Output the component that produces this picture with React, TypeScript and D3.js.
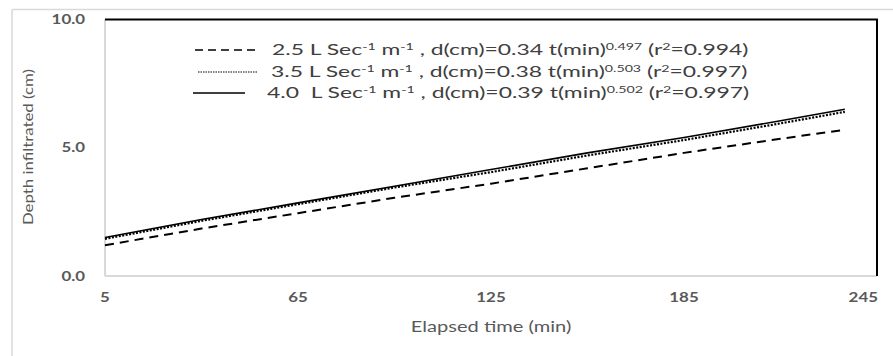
import React from "react";
import * as d3 from "d3";

const times = [5, 35, 65, 95, 125, 155, 185, 215, 235];
const depth25 = [1.2, 1.85, 2.45, 3.05, 3.6, 4.2, 4.8, 5.35, 5.7];
const depth35 = [1.45, 2.15, 2.8, 3.45, 4.05, 4.7, 5.3, 5.95, 6.4];
const depth40 = [1.5, 2.2, 2.85, 3.5, 4.15, 4.8, 5.4, 6.05, 6.5];

const xTicks = [5, 65, 125, 185, 245];
const yTicks = [0, 5, 10];

const rates = ["2.5", "3.5", "4.0"];
const coefs = ["0.34", "0.38", "0.39"];
const exps = ["0.497", "0.503", "0.502"];
const r2s = ["0.994", "0.997", "0.997"];

const W = 893;
const H = 356;
const M = { left: 105, right: 877, top: 19.5, bottom: 276 };
const FONT = "Lato, 'Open Sans', sans-serif";

export default function App() {
  const x = d3.scaleLinear().domain([5, 245]).range([M.left, M.right]);
  const y = d3.scaleLinear().domain([0, 10]).range([M.bottom, M.top]);
  const line = d3
    .line<number>()
    .x((_, i) => x(times[i]))
    .y((v) => y(v));

  const series = [
    { data: depth25, dash: "9,6", width: 2 },
    { data: depth35, dash: "2,1.5", width: 2.2 },
    { data: depth40, dash: "none", width: 1.6 },
  ];
  const legendDash = ["8,5", "1.5,1", "none"];
  const legendX = [[195, 258], [198, 257], [193, 245]];
  const legendTextX = [272, 271, 267];
  const baselines = [55, 77, 98];
  const LSX = 1.58;
  const TSX = 1.3;

  return (
    <svg
      width={W}
      height={H}
      style={{ position: "absolute", left: 0, top: 0, background: "#fff" }}
      fontFamily={FONT}
    >
      <rect x={0} y={0} width={W} height={H} fill="#fff" />
      {/* outer frame */}
      <line x1={12} y1={9.5} x2={W} y2={9.5} stroke="#d9d9d9" strokeWidth={1.5} />
      <line x1={12} y1={9.5} x2={12} y2={H} stroke="#d9d9d9" strokeWidth={1.5} />

      {/* plot borders */}
      <line x1={M.left} y1={M.top} x2={M.left} y2={M.bottom} stroke="#d9d9d9" strokeWidth={2} />
      <line x1={M.left} y1={M.bottom} x2={M.right} y2={M.bottom} stroke="#d9d9d9" strokeWidth={2} />
      <line x1={M.left} y1={M.top} x2={M.right + 1} y2={M.top} stroke="#000" strokeWidth={2} />
      <line x1={M.right} y1={M.top} x2={M.right} y2={M.bottom} stroke="#000" strokeWidth={2} />

      {/* y tick labels */}
      {yTicks.map((t) => (
        <g key={t} transform={`translate(85,${y(t) + 4.5}) scale(${TSX},1)`}>
          <text textAnchor="end" fontSize={13} fontWeight={700} fill="#595959">
            {t.toFixed(1)}
          </text>
        </g>
      ))}
      {/* x tick labels */}
      {xTicks.map((t, i) => {
        const last = i === xTicks.length - 1;
        return (
          <g key={t} transform={`translate(${last ? x(t) + 1 : x(t)},302) scale(${TSX},1)`}>
            <text textAnchor={last ? "end" : "middle"} fontSize={13} fontWeight={700} fill="#595959">
              {t}
            </text>
          </g>
        );
      })}

      {/* axis titles */}
      <g transform={`translate(491,332) scale(1.34,1)`}>
        <text textAnchor="middle" fontSize={15} fill="#595959">
          Elapsed time (min)
        </text>
      </g>
      <g transform={`translate(33,147) rotate(-90) scale(1.2,1)`}>
        <text textAnchor="middle" fontSize={14} fill="#595959">
          Depth infiltrated (cm)
        </text>
      </g>

      {/* series */}
      {series.map((s, i) => (
        <path
          key={i}
          d={line(s.data) || ""}
          fill="none"
          stroke="#000"
          strokeWidth={s.width}
          strokeDasharray={s.dash}
        />
      ))}

      {/* legend */}
      {rates.map((r, i) => (
        <g key={r}>
          <line
            x1={legendX[i][0]}
            x2={legendX[i][1]}
            y1={baselines[i] - 5}
            y2={baselines[i] - 5}
            stroke="#000"
            strokeWidth={i === 1 ? 1 : 1.3}
            strokeDasharray={legendDash[i]}
          />
          <g transform={`translate(${legendTextX[i]},${baselines[i]}) scale(${LSX},1)`}>
            <text fontSize={14.5} fill="#404040">
              <tspan>{r}{i === 2 ? "\u00a0" : ""} L Sec</tspan>
              <tspan dy={-5} fontSize={9}>-1</tspan>
              <tspan dy={5}> m</tspan>
              <tspan dy={-5} fontSize={9}>-1</tspan>
              <tspan dy={5}>{` , d(cm)=${coefs[i]} t(min)`}</tspan>
              <tspan dy={-5} fontSize={9}>{exps[i]}</tspan>
              <tspan dy={5}> (r</tspan>
              <tspan dy={-5} fontSize={9}>2</tspan>
              <tspan dy={5}>{`=${r2s[i]})`}</tspan>
            </text>
          </g>
        </g>
      ))}
    </svg>
  );
}
